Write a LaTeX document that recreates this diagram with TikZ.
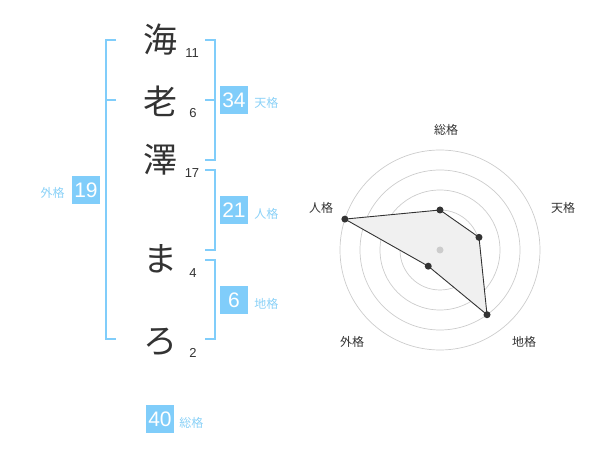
\documentclass[tikz,border=0pt]{standalone}
\usepackage{fontspec}
\setmainfont{Noto Sans CJK JP}
\newfontfamily\numfont{Liberation Sans}
\usetikzlibrary{positioning}
\definecolor{kakublue}{HTML}{80CDFA}
\definecolor{kakutext}{HTML}{8AD1F7}
\definecolor{inkgray}{HTML}{333333}
\definecolor{ringgray}{HTML}{CCCCCC}
\definecolor{polyfill}{HTML}{F0F0F0}

\begin{document}
\begin{tikzpicture}[
    x=1pt, y=-1pt,
    kanji/.style={text=inkgray, inner sep=0, font=\fontsize{34}{34}\selectfont},
    strokes/.style={text=inkgray, inner sep=0, font=\numfont\fontsize{13}{13}\selectfont},
    scorebox/.style={fill=kakublue, text=white, minimum size=28pt, inner sep=0, font=\numfont\fontsize{21}{21}\selectfont},
    kakulabel/.style={text=kakutext, inner sep=0, font=\fontsize{12}{12}\selectfont},
    radarlabel/.style={text=inkgray, inner sep=0, font=\fontsize{12}{12}\selectfont},
    bracket/.style={draw=kakublue, line width=2pt},
    ring/.style={draw=ringgray, line width=0.7pt},
    poly/.style={draw=inkgray, fill=polyfill, line width=0.9pt},
    dot/.style={circle, fill=inkgray, minimum size=7pt, inner sep=0}
    ]
        \useasboundingbox (0,0) rectangle (600,470);

        %Nodes
        \node[kanji]    (k1)    at (160,40)     {海};
        \node[kanji]    (k2)    at (160,101)    {老};
        \node[kanji]    (k3)    at (160,160)    {澤};
        \node[kanji]    (k4)    at (160,259)    {ま};
        \node[kanji]    (k5)    at (160,342)    {ろ};
        \node[strokes]  (s1)    at (192,53)     {11};
        \node[strokes]  (s2)    at (193,113)    {6};
        \node[strokes]  (s3)    at (192,173)    {17};
        \node[strokes]  (s4)    at (193,273)    {4};
        \node[strokes]  (s5)    at (193,353)    {2};

        \node[scorebox] (bTen)  at (234,100)    {34};
        \node[kakulabel]
            (lTen)  [right=6pt of bTen, yshift=-3pt]   {天格};
        \node[scorebox] (bJin)  at (234,210)    {21};
        \node[kakulabel]
            (lJin)  [right=6pt of bJin, yshift=-4pt]   {人格};
        \node[scorebox] (bChi)  at (234,300)    {6};
        \node[kakulabel]
            (lChi)  [right=6pt of bChi, yshift=-4pt]   {地格};
        \node[scorebox] (bGai)  at (86,190)     {19};
        \node[kakulabel]
            (lGai)  [left=7pt of bGai, yshift=-3pt]    {外格};
        \node[scorebox] (bSou)  at (160,419)    {40};
        \node[kakulabel]
            (lSou)  [right=5pt of bSou, yshift=-4pt]   {総格};

        %Brackets
        \coordinate (gTop) at (116,40);
        \coordinate (gMid) at (116,100);
        \coordinate (gBot) at (116,339);
        \draw[bracket] (gTop) -- ++(-10,0) |- (gBot);
        \draw[bracket] (gMid) -- ++(-10,0);

        \coordinate (tTop) at (205,40);
        \coordinate (tMid) at (205,100);
        \coordinate (tBot) at (205,160);
        \draw[bracket] (tTop) -- ++(10,0) |- (tBot);
        \draw[bracket] (tMid) -- ++(10,0);

        \coordinate (jTop) at (205,170);
        \coordinate (jBot) at (205,250);
        \draw[bracket] (jTop) -- ++(10,0) |- (jBot);

        \coordinate (cTop) at (205,260);
        \coordinate (cBot) at (205,339);
        \draw[bracket] (cTop) -- ++(10,0) |- (cBot);

        %Radar
        \coordinate (rc) at (440,250);
        \foreach \r in {20,40,60,80,100}
            \draw[ring] (rc) circle (\r pt);

        \foreach \n/\a/\r in {sou/90/40, ten/18/41, chi/-54/80, gai/-126/20, jin/162/100}
            \coordinate (p\n) at ([shift={(\a:\r pt)}]rc);
        \draw[poly] (psou) -- (pten) -- (pchi) -- (pgai) -- (pjin) -- cycle;
        \fill[ringgray] (rc) circle (3.5pt);
        \foreach \n in {sou,ten,chi,gai,jin}
            \node[dot] (d\n) at (p\n) {};

        \node[radarlabel]   (rSou)  at (446,130)    {総格};
        \node[radarlabel]   (rTen)  at (563,208)    {天格};
        \node[radarlabel]   (rChi)  at (524,342)    {地格};
        \node[radarlabel]   (rGai)  at (352,342)    {外格};
        \node[radarlabel]   (rJin)  at (321,208)    {人格};
    \end{tikzpicture}
\end{document}
